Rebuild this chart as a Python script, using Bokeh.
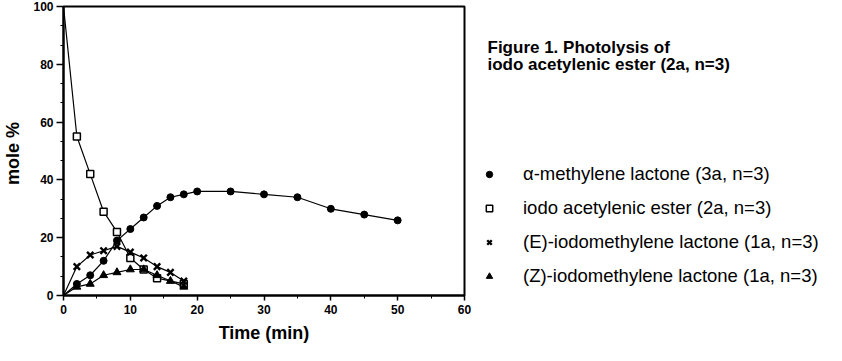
from bokeh.plotting import figure
from bokeh.layouts import row
from bokeh.models import Range1d, SingleIntervalTicker, Legend, LegendItem, Label
from bokeh.embed import file_html
from bokeh.resources import INLINE

# ---- data (time in min, mole %) ----
t_lac = [0, 2, 4, 6, 8, 10, 12, 14, 16, 18, 20, 25, 30, 35, 40, 45, 50]
v_lac = [0, 4, 7, 12, 19, 23, 27, 31, 34, 35, 36, 36, 35, 34, 30, 28, 26]

t_est = [0, 2, 4, 6, 8, 10, 12, 14, 18]
v_est = [100, 55, 42, 29, 22, 13, 9, 6, 4]

t_E = [0, 2, 4, 6, 8, 10, 12, 14, 16, 18]
v_E = [0, 10, 14, 15.5, 17, 15, 13, 10, 8, 5]

t_Z = [0, 2, 4, 6, 8, 10, 12, 14, 16, 18]
v_Z = [0, 3, 4, 7, 8, 9, 9, 7, 5, 3]

labels = [
    "\u03b1-methylene lactone (3a, n=3)",
    "iodo acetylenic ester (2a, n=3)",
    "(E)-iodomethylene lactone (1a, n=3)",
    "(Z)-iodomethylene lactone (1a, n=3)",
]
title_lines = ["Figure 1. Photolysis of", "iodo acetylenic ester (2a, n=3)"]

FONT = "Liberation Sans"
H = 345
NAN = float("nan")

# ---- main chart ----
p = figure(width=474, height=H, output_backend="svg", toolbar_location=None,
           x_range=Range1d(0, 60), y_range=Range1d(0, 100),
           min_border_left=59, min_border_top=6, min_border_right=10, min_border_bottom=48)
p.grid.visible = False
p.outline_line_color = "black"
p.outline_line_width = 2

p.xaxis.ticker = SingleIntervalTicker(interval=10, num_minor_ticks=2)
p.yaxis.ticker = SingleIntervalTicker(interval=20, num_minor_ticks=3)
for ax in (p.xaxis, p.yaxis):
    ax.axis_line_width = 2
    ax.major_tick_line_width = 1.5
    ax.major_tick_in = 0
    ax.minor_tick_out = 3
    ax.minor_tick_in = 0
    ax.major_label_text_font = FONT
    ax.major_label_text_font_style = "bold"
    ax.major_label_text_font_size = "12px"
    ax.major_label_text_color = "black"
    ax.axis_label_text_font = FONT
    ax.axis_label_text_font_style = "bold"
    ax.axis_label_text_font_size = "18px"
    ax.axis_label_text_color = "black"
p.xaxis.axis_label = "Time (min)"
p.yaxis.axis_label = "mole  %"
p.xaxis.major_tick_out = 5
p.yaxis.major_tick_out = 7
p.xaxis.major_label_standoff = 4
p.xaxis.axis_label_standoff = 6
p.yaxis.major_label_standoff = 3
p.yaxis.axis_label_standoff = 7

lw = 1.2
p.line(t_lac, v_lac, color="black", line_width=lw)
p.line(t_est, v_est, color="black", line_width=lw)
p.line(t_E, v_E, color="black", line_width=lw)
p.line(t_Z, v_Z, color="black", line_width=lw)

circ = dict(marker="circle", size=7, color="black")
sq = dict(marker="square", size=7, fill_color="white", line_color="black", line_width=1.5)
ex = dict(marker="x", size=9, line_color="black", line_width=2.4)
tri = dict(marker="triangle", size=8, color="black")

p.scatter(t_lac[1:], v_lac[1:], **circ)
p.scatter(t_est[1:], v_est[1:], **sq)
p.scatter(t_E[1:], v_E[1:], **ex)
p.scatter(t_Z[1:], v_Z[1:], **tri)

# ---- side panel: caption + legend ----
W2 = 826 - 474
p2 = figure(width=W2, height=H, output_backend="svg", toolbar_location=None,
            x_range=Range1d(0, W2), y_range=Range1d(0, H),
            x_axis_type=None, y_axis_type=None, min_border=0)
p2.grid.visible = False
p2.outline_line_color = None

# legend-only renderers (no visible data point)
leg_r = [p2.scatter(x=[NAN], y=[NAN], **st) for st in (circ, sq, ex, tri)]
legend = Legend(items=[LegendItem(label=l, renderers=[r]) for l, r in zip(labels, leg_r)],
                location=(7, 8), orientation="vertical",
                padding=0, margin=0, spacing=12, glyph_width=16, glyph_height=22,
                label_height=22, label_standoff=26,
                border_line_color=None, background_fill_alpha=0,
                label_text_font=FONT, label_text_font_size="18.5px",
                label_text_color="black")
p2.add_layout(legend, "center")

for i, line in enumerate(title_lines):
    p2.add_layout(Label(x=13, y=296 - 20 * i, text=line, text_font=FONT,
                        text_font_style="bold", text_font_size="17px",
                        text_baseline="middle", text_color="black"))

layout = row(p, p2, spacing=0)
open("out.html", "w").write(file_html(layout, INLINE))
